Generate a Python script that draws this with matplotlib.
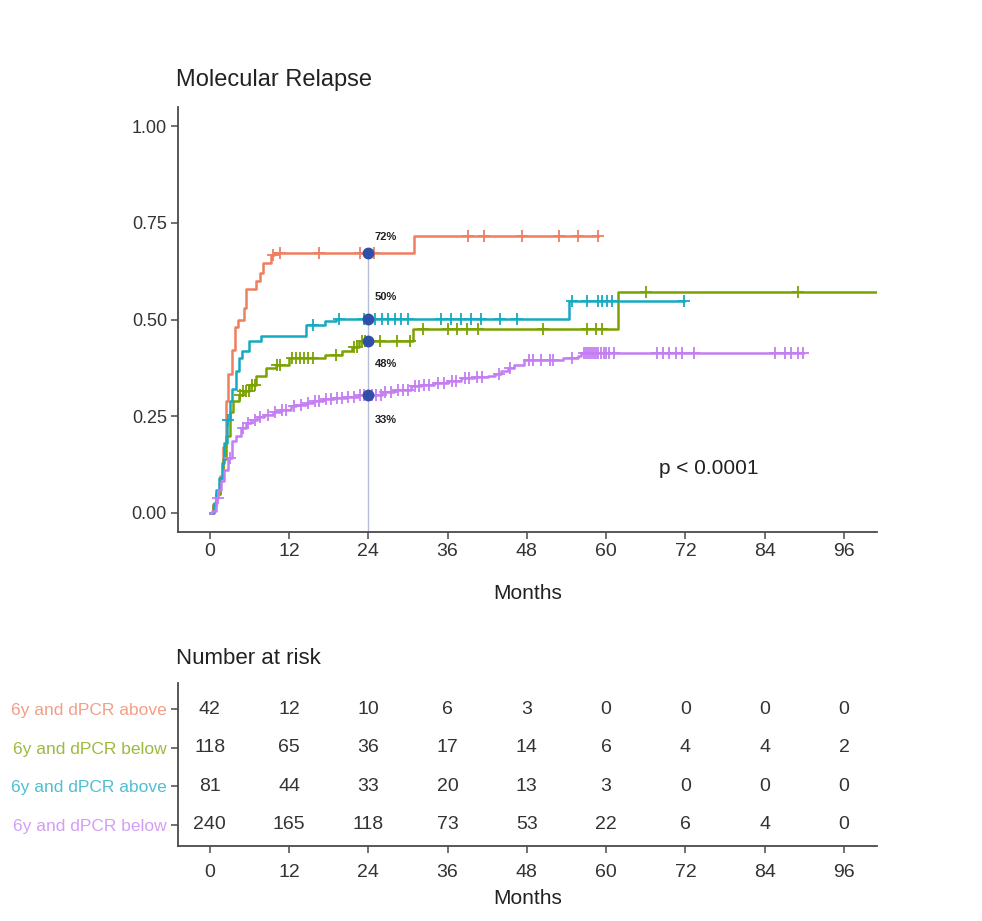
import numpy as np
import matplotlib
matplotlib.use("Agg")
import matplotlib.pyplot as plt

plt.rcParams['font.family'] = ['Liberation Sans Narrow', 'Liberation Sans', 'DejaVu Sans']

# ---- group definitions -------------------------------------------------
group_labels = ["6y and dPCR above", "6y and dPCR below",
                "6y and dPCR above", "6y and dPCR below"]
group_colors = ["#EE7F5F", "#7BA300", "#16A9C2", "#C47EF2"]

# cumulative incidence step functions (time in months, value)
orange_t = [0, 0.5, 1.0, 1.5, 2.0, 2.4, 2.8, 3.3, 3.8, 4.3, 5.2, 5.5, 7.0, 7.6, 8.0, 9.2, 9.8, 30.9]
orange_v = [0, 0.024, 0.048, 0.095, 0.17, 0.29, 0.36, 0.42, 0.48, 0.50, 0.53, 0.58, 0.60, 0.62, 0.645, 0.667, 0.672, 0.716]
orange_end = 58.8
orange_cens = [9.6, 10.6, 16.5, 22.8, 24.9, 39.1, 41.5, 47.2, 52.8, 55.8, 58.7]

green_t = [0, 0.5, 1.0, 1.5, 2.0, 2.5, 3.0, 3.5, 4.4, 5.0, 6.0, 7.0, 8.5, 10.0, 12.0,
           17.5, 20.0, 21.5, 22.6, 30.7, 61.8]
green_v = [0, 0.02, 0.05, 0.09, 0.14, 0.20, 0.26, 0.29, 0.305, 0.315, 0.33, 0.355, 0.375, 0.383, 0.40,
           0.409, 0.418, 0.43, 0.445, 0.476, 0.571]
green_end = 101.0
green_cens = [4.6, 5.1, 5.5, 5.9, 6.4, 6.8, 10.2, 10.7, 12.4, 13.0, 13.6, 14.2, 14.9, 15.6, 19.1,
              21.8, 22.3, 23.0, 23.5, 25.8, 28.3, 30.3, 32.3, 36.0, 37.5, 39.0, 40.6, 50.5,
              57.1, 58.4, 59.4, 66.0, 89.0]

teal_t = [0, 0.6, 1.0, 1.4, 1.8, 2.2, 2.6, 3.0, 3.4, 3.9, 4.4, 4.9, 6.0, 7.7, 14.5, 17.5, 19.1, 54.4]
teal_v = [0, 0.025, 0.06, 0.09, 0.13, 0.18, 0.24, 0.29, 0.32, 0.366, 0.40, 0.418, 0.444, 0.457,
          0.487, 0.495, 0.502, 0.547]
teal_end = 71.8
teal_cens = [2.8, 15.7, 19.5, 23.3, 25.0, 26.0, 27.0, 28.0, 29.0, 30.0, 35.0, 36.5, 38.0, 39.5,
             41.0, 44.0, 46.5, 54.9, 57.1, 58.8, 59.4, 60.2, 60.9, 71.8]

purple_t = [0, 0.4, 0.9, 1.3, 1.7, 2.2, 2.7, 3.4, 4.0, 4.7, 5.5, 6.2, 7.2, 8.2, 9.5, 10.8, 12.3,
            13.0, 14.5, 15.6, 17.1, 18.8, 20.6, 22.5, 26.0, 27.9, 30.5, 32.0, 34.0, 36.0, 38.0,
            40.0, 42.1, 43.2, 44.1, 45.1, 46.1, 47.6, 53.5, 55.7, 56.2]
purple_v = [0, 0.005, 0.04, 0.06, 0.082, 0.11, 0.142, 0.185, 0.20, 0.219, 0.232, 0.241, 0.248,
            0.254, 0.262, 0.267, 0.276, 0.28, 0.285, 0.289, 0.294, 0.298, 0.301, 0.304, 0.313,
            0.319, 0.327, 0.331, 0.336, 0.342, 0.349, 0.351, 0.353, 0.36, 0.366, 0.375, 0.383,
            0.396, 0.40, 0.405, 0.413]
purple_end = 89.8
purple_cens = [1.2, 3.0, 5.0, 5.8, 6.8, 7.6, 8.8, 9.9, 11.0, 11.6, 12.8, 13.8, 14.9, 16.0, 16.5,
               17.6, 18.3, 19.2, 20.0, 21.0, 21.8, 22.8, 23.3, 24.5, 25.2, 25.9, 26.6, 27.4,
               28.5, 29.2, 30.0, 31.0, 31.6, 32.5, 33.2, 34.6, 35.4, 36.7, 37.3, 38.6, 39.3,
               40.5, 41.2, 43.8, 45.5, 48.3, 49.0, 50.2, 51.5, 52.0, 54.9, 56.6, 56.9, 57.2,
               57.5, 57.8, 58.1, 58.4, 58.8, 59.2, 59.6, 60.0, 60.5, 61.2, 67.7, 68.6, 69.5,
               70.5, 71.5, 73.3, 85.5, 87.0, 88.0, 89.0, 89.8]

curves = [
    (orange_t, orange_v, orange_end, orange_cens),
    (green_t, green_v, green_end, green_cens),
    (teal_t, teal_v, teal_end, teal_cens),
    (purple_t, purple_v, purple_end, purple_cens),
]

# percentages printed beside the 24-month landmark
landmark = 24
pct_labels = ["72%", "50%", "48%", "33%"]
pct_y = [0.713, 0.558, 0.385, 0.241]

# number at risk table
risk_times = [0, 12, 24, 36, 48, 60, 72, 84, 96]
risk_orange = [42, 12, 10, 6, 3, 0, 0, 0, 0]
risk_green = [118, 65, 36, 17, 14, 6, 4, 4, 2]
risk_teal = [81, 44, 33, 20, 13, 3, 0, 0, 0]
risk_purple = [240, 165, 118, 73, 53, 22, 6, 4, 0]
risk_rows = [risk_orange, risk_green, risk_teal, risk_purple]

x_ticks = [0, 12, 24, 36, 48, 60, 72, 84, 96]
y_ticks = [0.00, 0.25, 0.50, 0.75, 1.00]


def value_at(ts, vs, t):
    idx = np.searchsorted(np.asarray(ts), t, side='right') - 1
    return np.asarray(vs)[idx]


axis_col = "#4a4a4a"
text_col = "#333333"

fig = plt.figure(figsize=(9.82, 9.21), dpi=100)
ax = fig.add_axes([0.1813, 0.422, 0.7118, 0.4621])

for (ts, vs, tend, cens), col in zip(curves, group_colors):
    tx = list(ts) + [tend]
    vx = list(vs) + [vs[-1]]
    ax.step(tx, vx, where='post', color=col, lw=1.8, zorder=3)
    cy = value_at(ts, vs, np.asarray(cens))
    ax.plot(cens, cy, ls='none', marker='+', ms=8, mew=1.3, color=col, zorder=3)

# landmark line and points
top_val = value_at(orange_t, orange_v, landmark)
ax.plot([landmark, landmark], [-0.05, top_val], color="#b9bdd9", lw=1.0, zorder=2)
for ts, vs, _, _ in curves:
    ax.plot(landmark, value_at(ts, vs, landmark), 'o', ms=7.5, color="#2f4fa8", zorder=4)
for lab, yy in zip(pct_labels, pct_y):
    ax.text(landmark + 1.0, yy, lab, fontsize=8, color="#222222", va='center', ha='left',
            fontweight='bold')

ax.text(75.5, 0.115, "p < 0.0001", fontsize=15, color="#222222", ha='center', va='center')

ax.set_xlim(-4.8, 101.0)
ax.set_ylim(-0.05, 1.05)
ax.set_xticks(x_ticks)
ax.set_yticks(y_ticks)
ax.set_yticklabels([f"{v:.2f}" for v in y_ticks])
ax.set_xlabel("Months", fontsize=15, color="#222222", labelpad=17)
ax.set_title("Molecular Relapse", loc='left', fontsize=17, color="#222222", pad=15,
             x=-0.003)
for s in ['top', 'right']:
    ax.spines[s].set_visible(False)
for s in ['left', 'bottom']:
    ax.spines[s].set_color(axis_col)
    ax.spines[s].set_linewidth(1.3)
ax.tick_params(colors=axis_col, labelcolor=text_col, labelsize=13, length=5, width=1.1, pad=3)
ax.tick_params(axis='x', labelsize=14)

# ---- risk table ---------------------------------------------------------
ax2 = fig.add_axes([0.1813, 0.0814, 0.7118, 0.1767])
row_pos = [4, 3, 2, 1]
for row, yy in zip(risk_rows, row_pos):
    for t, n in zip(risk_times, row):
        ax2.text(t, yy, str(n), ha='center', va='center', fontsize=14, color=text_col)
ax2.set_xlim(-4.8, 101.0)
ax2.set_ylim(0.45, 4.67)
ax2.set_xticks(x_ticks)
ax2.set_yticks(row_pos)
ax2.set_yticklabels(group_labels)
ax2.set_xlabel("Months", fontsize=15, color="#222222", labelpad=6)
ax2.set_title("Number at risk", loc='left', fontsize=16, color="#222222", pad=14, x=-0.003)
for s in ['top', 'right']:
    ax2.spines[s].set_visible(False)
for s in ['left', 'bottom']:
    ax2.spines[s].set_color(axis_col)
    ax2.spines[s].set_linewidth(1.3)
ax2.tick_params(colors=axis_col, labelcolor=text_col, labelsize=14, length=5, width=1.1, pad=3)
ax2.tick_params(axis='x', pad=8)
ax2.tick_params(axis='y', labelsize=12.5)
for lab, col in zip(ax2.get_yticklabels(), group_colors):
    lab.set_color(col)
    lab.set_alpha(0.75)

fig.savefig("out.png", dpi=100)
